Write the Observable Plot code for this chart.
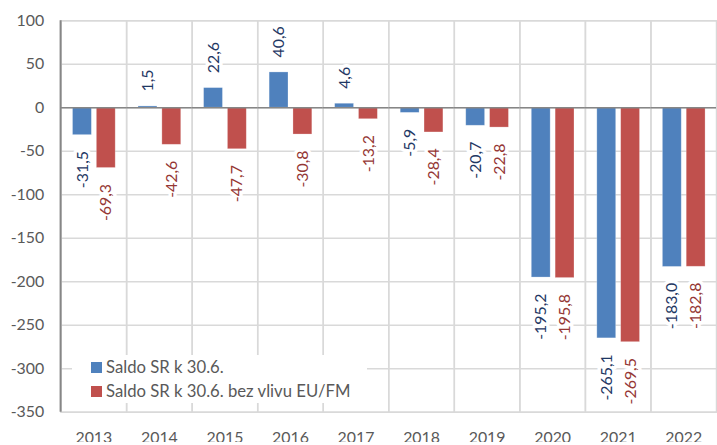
<!DOCTYPE html>
<html>
<head>
<meta charset="utf-8">
<script src="https://cdn.jsdelivr.net/npm/d3@7"></script>
<script src="https://cdn.jsdelivr.net/npm/@observablehq/plot@0.6"></script>
<style>
  html, body { margin: 0; padding: 0; background: #fff; overflow: hidden; }
  #wrap { position: relative; width: 717px; height: 445px; overflow: hidden; font-family: Lato, "Open Sans", sans-serif; }
  #legend { position: absolute; left: 72px; top: 355px; width: 295px; height: 48px; background: #fff; color: #595959; font-size: 16.7px; }
  .item { position: absolute; left: 19px; display: flex; align-items: center; white-space: nowrap; }
  .sw { width: 11px; height: 11px; margin-right: 4px; }
</style>
</head>
<body>
<div id="wrap"></div>
<script>
const years = ["2013", "2014", "2015", "2016", "2017", "2018", "2019", "2020", "2021", "2022"];
const saldo = [-31.5, 1.5, 22.6, 40.6, 4.6, -5.9, -20.7, -195.2, -265.1, -183.0];
const bezVlivu = [-69.3, -42.6, -47.7, -30.8, -13.2, -28.4, -22.8, -195.8, -269.5, -182.8];
const seriesNames = ["Saldo SR k 30.6.", "Saldo SR k 30.6. bez vlivu EU/FM"];
const seriesColors = ["#4f81bd", "#c0504d"];
const labelColors = ["#1f3864", "#953735"];
const yTicks = [100, 50, 0, -50, -100, -150, -200, -250, -300, -350];

const seriesValues = [saldo, bezVlivu];
const data = years.flatMap((year, i) => seriesNames.map((s, k) => ({year, series: s, value: seriesValues[k][i]})));
const fmt = v => v.toFixed(1).replace(".", ",");

const labelMarks = [];
seriesNames.forEach((s, k) => {
  const base = {fx: "year", x: "series", y: "value", text: d => fmt(d.value), rotate: -90,
    fill: labelColors[k], fontSize: 16, stroke: "white", strokeWidth: 7};
  labelMarks.push(Plot.text(data.filter(d => d.series === s && d.value >= 0), {...base, textAnchor: "start", dy: -15}));
  labelMarks.push(Plot.text(data.filter(d => d.series === s && d.value < 0), {...base, textAnchor: "end", dy: 16}));
});

const mt = 20.4, mb = 30.4, ml = 61;
const chart = Plot.plot({
  width: 722, height: 445,
  marginLeft: ml, marginRight: 1, marginTop: mt, marginBottom: mb,
  style: {fontFamily: "Lato, 'Open Sans', sans-serif", background: "white"},
  fx: {domain: years, padding: 0, label: null},
  x: {domain: seriesNames, paddingInner: 0.224, paddingOuter: 0.459, axis: null},
  y: {domain: [-350, 100], label: null},
  color: {domain: seriesNames, range: seriesColors},
  marks: [
    Plot.frame({stroke: "#d9d9d9", strokeWidth: 1.5}),
    Plot.gridY(yTicks, {stroke: "#d9d9d9", strokeOpacity: 1, strokeWidth: 1.5}),
    Plot.barY(data, {fx: "year", x: "series", y: "value", fill: "series", stroke: "#ffffff", strokeOpacity: 0.35, strokeWidth: 0.75}),
    Plot.ruleY([0], {stroke: "#868686", strokeWidth: 1.5}),
    ...labelMarks,
    Plot.axisY(yTicks, {tickSize: 0, tickPadding: 17, fontSize: 16, color: "#595959", tickFormat: d => String(d), label: null}),
    Plot.axisFx({anchor: "bottom", tickSize: 0, tickPadding: 20, fontSize: 16, color: "#595959", label: null})
  ]
});

// left axis line
d3.select(chart).append("line")
  .attr("x1", ml).attr("x2", ml)
  .attr("y1", mt).attr("y2", 445 - mb)
  .attr("stroke", "#868686").attr("stroke-width", 2);

const wrap = document.getElementById("wrap");
wrap.appendChild(chart);

const legend = document.createElement("div");
legend.id = "legend";
seriesNames.forEach((s, k) => {
  const item = document.createElement("div");
  item.className = "item";
  item.style.top = (k === 0 ? 2 : 26) + "px";
  const sw = document.createElement("span");
  sw.className = "sw";
  sw.style.background = seriesColors[k];
  const t = document.createElement("span");
  t.textContent = s;
  item.appendChild(sw);
  item.appendChild(t);
  legend.appendChild(item);
});
wrap.appendChild(legend);
</script>
</body>
</html>
